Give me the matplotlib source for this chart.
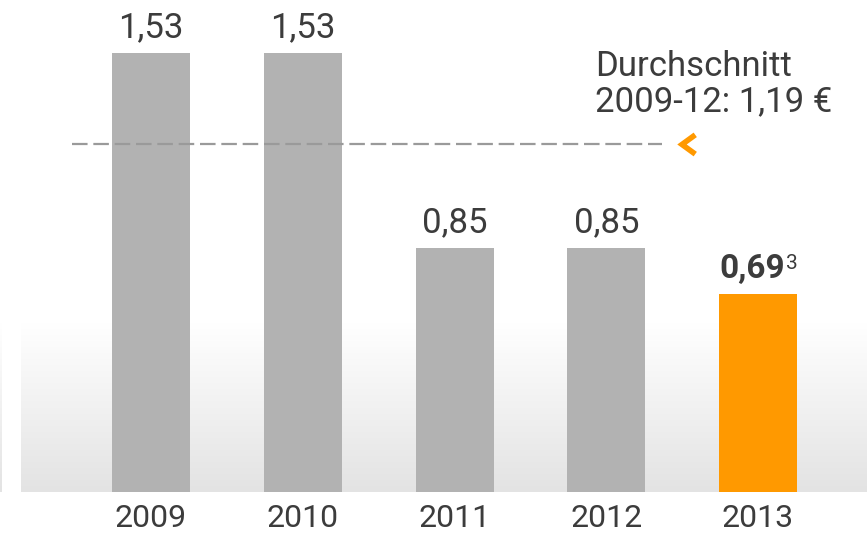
import numpy as np
import matplotlib.pyplot as plt
from matplotlib.colors import LinearSegmentedColormap

years = ["2009", "2010", "2011", "2012", "2013"]
values = [1.53, 1.53, 0.85, 0.85, 0.69]
labels = ["1,53", "1,53", "0,85", "0,85", "0,69"]
average = 1.19
average_text = "Durchschnitt\n2009-12: 1,19 €"
footnote = "3"

GREY = "#b2b2b2"
ORANGE = "#ff9900"
TEXT = "#3c3c3c"
FONT = "Roboto"

W, H = 867, 534
fig = plt.figure(figsize=(W / 100, H / 100), dpi=100)
ax = fig.add_axes([0, 0, 1, 1])

# pixel -> data mapping (bar centres 151.75 px apart, 287 px per euro)
PX = 151.75
PY = 287.0
x0, base = 151, 42
ax.set_xlim(-x0 / PX, (W - x0) / PX)
ax.set_ylim(-base / PY, (H - base) / PY)
ax.axis("off")

# soft grey floor gradient (white at top, light grey at the base)
floor = LinearSegmentedColormap.from_list("floor", ["#e3e3e3", "#ffffff"])
grad = np.linspace(0, 1, 256).reshape(-1, 1)
top_y = (491 - 323) / PY
ax.imshow(grad, cmap=floor, aspect="auto", origin="lower",
          extent=(-(x0 - 21) / PX, (W - x0) / PX, 0, top_y), zorder=0)
ax.imshow(grad, cmap=floor, aspect="auto", origin="lower",
          extent=(-x0 / PX, -(x0 - 2) / PX, 0, top_y), zorder=0)

x = np.arange(len(years))
colors = [GREY] * 4 + [ORANGE]
ax.bar(x, values, width=78 / PX, color=colors, zorder=2)

for i, (v, lab) in enumerate(zip(values, labels)):
    if i == len(values) - 1:
        t = ax.text(i - 6 / PX, v + 9 / PY, lab, ha="center", va="bottom",
                    fontsize=24, fontweight="bold", color=TEXT, family=FONT)
        ax.annotate(footnote, xy=(1, 1), xycoords=t, xytext=(1, -1),
                    textcoords="offset points", ha="left", va="top",
                    fontsize=15, color=TEXT, family=FONT)
    else:
        ax.text(i, v + 9 / PY, lab, ha="center", va="bottom",
                fontsize=25, color=TEXT, family=FONT)
    ax.text(i, -12 / PY, years[i], ha="center", va="top",
            fontsize=23, color=TEXT, family=FONT)

# average line with chevron (drawn a few px above the value, as in the original)
ya = average + 6 / PY
ax.plot([(72 - x0) / PX, (662 - x0) / PX], [ya, ya],
        color="#9a9a9a", lw=1.6, dashes=(7, 2.6), zorder=3)
cx = (682 - x0) / PX
ax.plot([cx + 11 / PX, cx, cx + 11 / PX],
        [ya + 8 / PY, ya, ya - 8 / PY],
        color=ORANGE, lw=4, solid_joinstyle="miter", zorder=3)
ax.text((595 - x0) / PX, average + 100 / PY, average_text, ha="left", va="top",
        fontsize=25, color=TEXT, family=FONT, linespacing=1.05)

fig.savefig("out.png", dpi=100)
